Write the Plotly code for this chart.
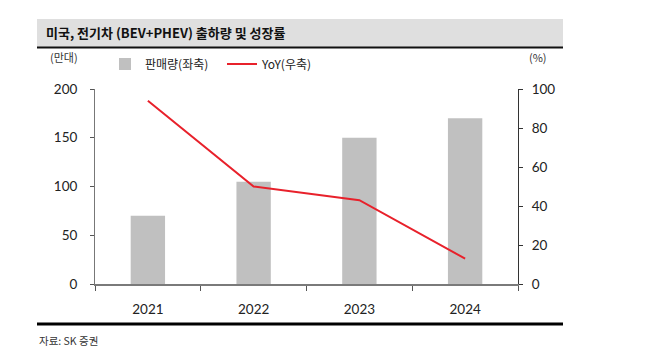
import plotly.graph_objects as go

years = ["2021", "2022", "2023", "2024"]
sales = [70, 105, 150, 170]          # 판매량 (만대)
yoy = [94, 50, 43, 13]               # YoY (%)

W, H = 670, 358
L, R, T, B = 95, 152, 89, 74
PW, PH = W - L - R, H - T - B

def px(x):
    return (x - L) / PW

def py(y):
    return (H - B - y) / PH

KFONT = "Noto Sans CJK KR"
NFONT = "Lato, Noto Sans, sans-serif"

fig = go.Figure()
fig.add_trace(go.Bar(
    x=years, y=sales, name="판매량(좌축)",
    marker=dict(color="#c0c0c0", line=dict(width=0)),
    yaxis="y",
))
fig.add_trace(go.Scatter(
    x=years, y=yoy, name="YoY(우축)", mode="lines",
    line=dict(color="#e8212b", width=2),
    yaxis="y2",
))

shapes = [
    dict(type="rect", xref="paper", yref="paper", x0=px(37), x1=px(563),
         y0=py(19), y1=py(47), fillcolor="#dfdfdf", line=dict(width=0), layer="below"),
    dict(type="line", xref="paper", yref="paper", x0=px(37), x1=px(563),
         y0=py(47.5), y1=py(47.5), line=dict(color="#111111", width=2)),
    dict(type="line", xref="paper", yref="paper", x0=px(37), x1=px(563),
         y0=py(324), y1=py(324), line=dict(color="#000000", width=3)),
]

annotations = [
    dict(text="미국, 전기차 (BEV+PHEV) 출하량 및 성장률", xref="paper", yref="paper",
         x=px(44), y=py(33), xanchor="left", yanchor="middle", showarrow=False,
         font=dict(family=KFONT, size=13, color="#111111", weight="bold")),
    dict(text="(만대)", xref="paper", yref="paper", x=px(64), y=py(57),
         xanchor="center", yanchor="middle", showarrow=False,
         font=dict(family=KFONT, size=11, color="#333333")),
    dict(text="(%)", xref="paper", yref="paper", x=px(538), y=py(57),
         xanchor="center", yanchor="middle", showarrow=False,
         font=dict(family=KFONT, size=11, color="#333333")),
    dict(text="자료: SK 증권", xref="paper", yref="paper", x=px(37), y=py(340),
         xanchor="left", yanchor="middle", showarrow=False,
         font=dict(family=KFONT, size=10.5, color="#333333")),
]

fig.update_layout(
    width=W, height=H, autosize=False,
    margin=dict(l=L, r=R, t=T, b=B, pad=0, autoexpand=False),
    paper_bgcolor="white", plot_bgcolor="white",
    bargap=0.675,
    showlegend=True,
    legend=dict(orientation="h", xref="paper", yref="paper",
                x=px(105), y=py(64), xanchor="left", yanchor="middle",
                font=dict(family=KFONT, size=12, color="#222222"),
                bgcolor="rgba(0,0,0,0)", borderwidth=0,
                entrywidth=72, entrywidthmode="pixels", traceorder="normal"),
    xaxis=dict(type="category", range=[-0.5, 3.5], showline=True,
               linecolor="#7a7a7a", linewidth=2, ticks="outside", tickson="boundaries",
               ticklen=5, tickcolor="#555555", tickwidth=1, showgrid=False,
               ticklabelstandoff=12,
               tickfont=dict(family=NFONT, size=13.5, color="#222222"), zeroline=False),
    yaxis=dict(range=[0, 200], dtick=50, showline=True, linecolor="#777777",
               linewidth=1, ticks="outside", ticklen=4, tickcolor="#555555",
               showgrid=False, zeroline=False, ticklabelstandoff=10,
               tickfont=dict(family=NFONT, size=13.5, color="#222222")),
    yaxis2=dict(range=[0, 100], dtick=20, overlaying="y", side="right",
                showline=True, linecolor="#333333", linewidth=1, ticks="outside",
                ticklen=4, tickcolor="#333333", showgrid=False, zeroline=False,
                ticklabelstandoff=6,
                tickfont=dict(family=NFONT, size=13.5, color="#222222")),
    shapes=shapes,
    annotations=annotations,
)

fig.write_html("out.html", config={"displayModeBar": False},
               post_script="document.body.style.margin='0';")
